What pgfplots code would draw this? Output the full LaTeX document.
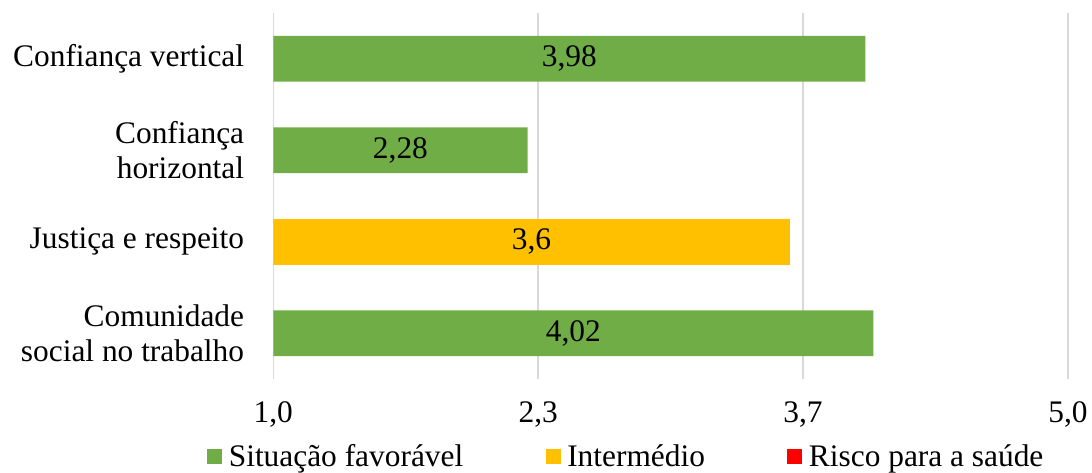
\documentclass[border=0pt]{standalone}
\usepackage{fontspec}
\setmainfont{Liberation Serif}
\usepackage{pgfplots}
\pgfplotsset{compat=1.18}
\definecolor{favgreen}{HTML}{70AD47}
\definecolor{midyellow}{HTML}{FFC000}
\definecolor{riskred}{HTML}{FF0000}
\definecolor{gridgray}{HTML}{D9D9D9}
\newcommand{\chartfont}{\fontsize{23.6pt}{26.5pt}\selectfont}
\pgfplotsset{
  sq legend/.style={legend image code/.code={
    \fill[##1, draw=none] (0pt,-5.6pt) rectangle (11.2pt,5.6pt);}},
}
\begin{document}
\begin{tikzpicture}
\begin{axis}[
  name=ax,
  scale only axis,
  width=597.5pt, height=275.25pt,
  xmin=1, xmax=5,
  ymin=-0.5, ymax=3.5,
  y dir=reverse,
  axis line style={draw=none},
  major tick length=0pt,
  xtick={1,2.33333,3.66667,5},
  xticklabels={{1,0},{2,3},{3,7},{5,0}},
  ytick={0,1,2,3},
  yticklabels={{Confiança vertical},{Confiança\\horizontal},{Justiça e respeito},{Comunidade\\social no trabalho}},
  xmajorgrids,
  grid style={draw=gridgray, line width=1.1pt},
  tick label style={font=\chartfont},
  yticklabel style={align=right, inner xsep=0pt, xshift=-21.75pt},
  xticklabel style={anchor=north, inner ysep=0pt, yshift=-17pt},
  /pgf/number format/.cd, fixed, precision=2, use comma, assume math mode=true,
  /pgfplots/.cd,
  point meta=x,
  nodes near coords,
  visualization depends on={rawx \as \rawx},
  every node near coord/.append style={font=\chartfont, anchor=center, text=black,
    shift={(axis direction cs:{-(\rawx-1)/2},0)}},
  legend columns=3,
  legend style={font=\chartfont, draw=none, fill=none,
    at={(0.4447,-0.212)}, anchor=center,
    /tikz/every odd column/.append style={column sep=3pt},
    /tikz/every even column/.append style={column sep=60pt},
    inner sep=0pt},
  legend cell align=left,
]
\addplot[xbar, bar width=34.5pt, bar shift=0pt, fill=favgreen, draw=none, sq legend]
  coordinates {(3.98,0) (2.28,1) (4.02,3)};
\addlegendentry{Situação favorável}
\addplot[xbar, bar width=34.5pt, bar shift=0pt, fill=midyellow, draw=none, sq legend]
  coordinates {(3.6,2)};
\addlegendentry{Intermédio}
\addlegendimage{fill=riskred, sq legend}
\addlegendentry{Risco para a saúde}
\end{axis}
\path[use as bounding box]
  ([xshift=-205.5pt, yshift=-70.5pt]ax.south west)
  rectangle ([xshift=16.5pt, yshift=9.75pt]ax.north east);
\end{tikzpicture}
\end{document}
